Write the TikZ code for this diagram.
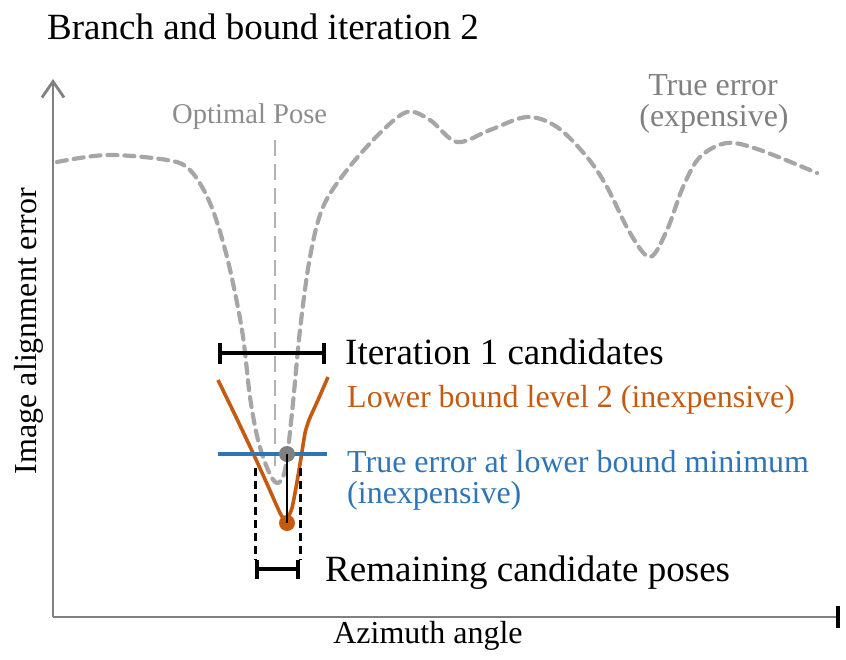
\documentclass[tikz,border=0pt]{standalone}
\usepackage{fontspec}
\setmainfont{Liberation Serif}
\usetikzlibrary{arrows.meta}
\definecolor{curvegray}{HTML}{A6A6A6}
\definecolor{axisgray}{HTML}{808080}
\definecolor{textgray}{HTML}{8C8C8C}
\definecolor{lineorange}{HTML}{C55A11}
\definecolor{lineblue}{HTML}{2E75B6}
\tikzset{
  bigtext/.style={inner sep=0pt, anchor=base west, font=\fontsize{37}{40}\selectfont},
  midtext/.style={inner sep=0pt, anchor=base west, font=\fontsize{32}{34}\selectfont},
  smalltext/.style={inner sep=0pt, anchor=base west, font=\fontsize{28.6}{31}\selectfont, text=textgray},
  truecurve/.style={curvegray, line width=4.2pt, dash pattern=on 10pt off 7pt, line cap=round},
  rangebar/.style={black, line width=4pt, {Bar[width=21pt]}-{Bar[width=21pt]}},
  guide/.style={black, line width=3pt, dash pattern=on 8pt off 5pt},
  axis/.style={axisgray, line width=2.8pt},
  dot/.style={circle, inner sep=0pt, minimum size=16pt}
}
\begin{document}
\begin{tikzpicture}[x=1pt,y=-1pt]
\useasboundingbox (0,0) rectangle (846,659);
% title
\node[bigtext] (title) at (47,39) {Branch and bound iteration 2};
% axes
\coordinate (origin) at (53,617);
\coordinate (ytop) at (53,79);
\coordinate (xend) at (838,617);
\coordinate (xtickt) at (838,606);
\coordinate (xtickb) at (838,628);
\draw[axis, -{Straight Barb[length=16pt,width=22pt,line width=2.8pt]}] (origin) -- (ytop);
\draw[axis] (origin) -- (xend);
\draw[black, line width=3.5pt] (xtickt) -- (xtickb);
\node[midtext, anchor=base, rotate=90] (ylab) at (36,331) {Image alignment error};
\node[midtext, anchor=base] (xlab) at (428,643) {Azimuth angle};
% optimal pose guide
\coordinate (optt) at (275,140);
\coordinate (optb) at (275,466);
\draw[curvegray!85, line width=2.2pt, dash pattern=on 16pt off 8pt] (optt) -- (optb);
\node[smalltext] (optlab) at (172,123) {Optimal Pose};
% true error curve
\draw[truecurve] plot[smooth, tension=0.55] coordinates {
 (57,162) (107,155) (167,160) (190,170) (210,203) (227,257) (242,330)
 (250,397) (258,440) (268,470) (277,483) (285,470) (292,413) (300,330)
 (310,257) (323,207) (347,170) (380,133) (407,112) (430,120) (457,142)
 (490,130) (527,117) (557,127) (587,157) (607,187) (630,233) (650,257)
 (667,230) (683,187) (700,157) (727,143) (760,150) (817,173)};
\node[midtext, anchor=base, text=axisgray] (te1) at (713,95) {True error};
\node[midtext, anchor=base, text=axisgray] (te2) at (714,126) {(expensive)};
% iteration 1 candidates
\coordinate (i1l) at (218,353);
\coordinate (i1r) at (326,353);
\draw[rangebar] (i1l) -- (i1r);
\node[bigtext] (i1lab) at (345,364) {Iteration 1 candidates};
% lower bound curve
\draw[lineorange, line width=3.6pt, line join=round] plot[smooth, tension=0.3] coordinates {
 (218,380) (236,417) (253,453) (268,486) (280,513) (286,521) (292,508)
 (297,482) (301,458) (305,433) (309,420) (318,400) (328,377)};
\node[midtext, text=lineorange] (lblab) at (347,407) {Lower bound level 2 (inexpensive)};
% true error at lower bound minimum
\coordinate (bl) at (218,454);
\coordinate (br) at (327,454);
\draw[lineblue, line width=3.6pt] (bl) -- (br);
\node[midtext, text=lineblue] (telab1) at (347,472) {True error at lower bound minimum};
\node[midtext, text=lineblue] (telab2) at (347,503) {(inexpensive)};
% min dots
\node[dot, fill=axisgray] (gdot) at (287,454) {};
\node[dot, fill=lineorange] (odot) at (287,523) {};
\draw[black, line width=2.4pt] (gdot.center) -- (odot.center);
% remaining candidates
\coordinate (gl1) at (255,468);
\coordinate (gl2) at (255,560);
\coordinate (gr1) at (300,468);
\coordinate (gr2) at (300,560);
\draw[guide] (gl1) -- (gl2);
\draw[guide] (gr1) -- (gr2);
\coordinate (rl) at (255,569);
\coordinate (rr) at (300,569);
\draw[black, line width=4pt, {Bar[width=19pt]}-{Bar[width=19pt]}] (rl) -- (rr);
\node[bigtext] (rlab) at (325,581) {Remaining candidate poses};
\end{tikzpicture}
\end{document}
